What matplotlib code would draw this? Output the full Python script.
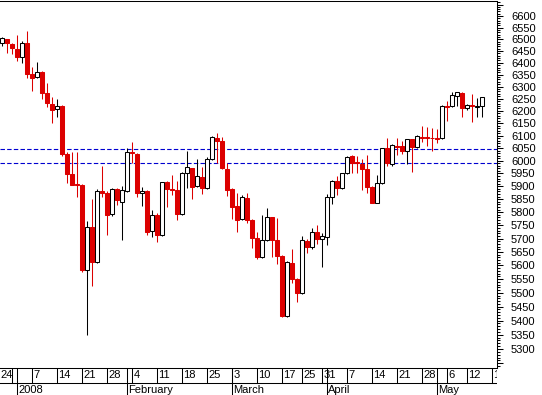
import numpy as np
import matplotlib
matplotlib.use("Agg")
import matplotlib.pyplot as plt
from matplotlib.ticker import FixedLocator, FixedFormatter, NullFormatter

plt.rcParams['font.family'] = ['Liberation Sans', 'DejaVu Sans']

# Daily candles (trading days only)
dates = ["2007-12-24", "2007-12-27", "2007-12-28", "2007-12-31",
         "2008-01-02", "2008-01-03", "2008-01-04",
         "2008-01-07", "2008-01-08", "2008-01-09", "2008-01-10", "2008-01-11",
         "2008-01-14", "2008-01-15", "2008-01-16", "2008-01-17", "2008-01-18",
         "2008-01-21", "2008-01-22", "2008-01-23", "2008-01-24", "2008-01-25",
         "2008-01-28", "2008-01-29", "2008-01-30", "2008-01-31", "2008-02-01",
         "2008-02-04", "2008-02-05", "2008-02-06", "2008-02-07", "2008-02-08",
         "2008-02-11", "2008-02-12", "2008-02-13", "2008-02-14", "2008-02-15",
         "2008-02-18", "2008-02-19", "2008-02-20", "2008-02-21", "2008-02-22",
         "2008-02-25", "2008-02-26", "2008-02-27", "2008-02-28", "2008-02-29",
         "2008-03-03", "2008-03-04", "2008-03-05", "2008-03-06", "2008-03-07",
         "2008-03-10", "2008-03-11", "2008-03-12", "2008-03-13", "2008-03-14",
         "2008-03-17", "2008-03-18", "2008-03-19", "2008-03-20",
         "2008-03-25", "2008-03-26", "2008-03-27", "2008-03-28",
         "2008-03-31", "2008-04-01", "2008-04-02", "2008-04-03", "2008-04-04",
         "2008-04-07", "2008-04-08", "2008-04-09", "2008-04-10", "2008-04-11",
         "2008-04-14", "2008-04-15", "2008-04-16", "2008-04-17", "2008-04-18",
         "2008-04-21", "2008-04-22", "2008-04-23", "2008-04-24", "2008-04-25",
         "2008-04-28", "2008-04-29", "2008-04-30", "2008-05-01", "2008-05-02",
         "2008-05-06", "2008-05-07", "2008-05-08", "2008-05-09",
         "2008-05-12", "2008-05-13", "2008-05-14", "2008-05-15"]

opens = [6455, 6482, 6500, 6479, 6458, 6423, 6482,
         6353, 6339, 6362, 6275, 6228,
         6207, 6220, 6027, 5948, 5910,
         5905, 5583, 5742, 5614, 5881,
         5875, 5792, 5889, 5840, 5881,
         6033, 6027, 5873, 5881, 5728,
         5789, 5713, 5915, 5890, 5885,
         5792, 5950, 5970, 5901, 5937,
         5892, 6006, 6089, 6078, 5966,
         5888, 5824, 5775, 5855, 5770,
         5703, 5632, 5695, 5780, 5695,
         5635, 5417, 5610, 5550,
         5499, 5692, 5667, 5726,
         5697, 5707, 5857, 5920, 5894,
         5950, 6019, 5993, 5986, 5967,
         5898, 5837, 5911, 6049, 5986,
         6060, 6058, 6039, 6085, 6054,
         6096, 6096, 6092, 6091, 6089,
         6222, 6222, 6261, 6272,
         6210, 6226, 6218, 6220]

highs = [6500, 6511, 6502, 6485, 6518, 6492, 6535,
         6383, 6404, 6366, 6316, 6256,
         6249, 6224, 6036, 6036, 6036,
         5908, 5767, 5850, 5889, 5979,
         5880, 5892, 5893, 5902, 6049,
         6075, 6030, 5896, 5884, 5808,
         5795, 5918, 5920, 5944, 5921,
         5957, 6038, 5973, 6006, 5976,
         6016, 6100, 6109, 6096, 5992,
         5892, 5875, 5866, 5875, 5775,
         5724, 5789, 5815, 5782, 5778,
         5638, 5615, 5660, 5553,
         5710, 5697, 5741, 5751,
         5721, 5870, 5924, 5940, 5953,
         6020, 6022, 6017, 6006, 6022,
         5901, 5944, 6052, 6089, 6065,
         6089, 6079, 6088, 6088, 6102,
         6139, 6136, 6132, 6128, 6224,
         6242, 6276, 6279, 6276,
         6228, 6269, 6253, 6258]

lows = [6450, 6472, 6442, 6437, 6407, 6400, 6337,
        6283, 6335, 6248, 6217, 6152,
        6176, 6018, 5914, 5903, 5859,
        5575, 5348, 5524, 5610, 5857,
        5713, 5785, 5827, 5695, 5878,
        5991, 5859, 5824, 5713, 5707,
        5688, 5710, 5821, 5866, 5769,
        5790, 5892, 5850, 5896, 5870,
        5889, 6003, 5992, 5967, 5862,
        5774, 5726, 5769, 5760, 5663,
        5622, 5628, 5692, 5632, 5605,
        5414, 5414, 5535, 5468,
        5495, 5645, 5660, 5680,
        5593, 5676, 5831, 5866, 5890,
        5946, 5950, 5951, 5885, 5873,
        5834, 5834, 5908, 5979, 5979,
        6022, 6027, 5986, 5957, 6050,
        6075, 6059, 6039, 6071, 6086,
        6160, 6218, 6220, 6174,
        6205, 6154, 6174, 6174]

closes = [6490, 6504, 6482, 6461, 6423, 6482, 6353,
          6337, 6362, 6275, 6231, 6204,
          6221, 6027, 5948, 5905, 5906,
          5583, 5742, 5614, 5881, 5875,
          5789, 5888, 5846, 5885, 6033,
          6029, 5873, 5881, 5726, 5789,
          5713, 5915, 5888, 5886, 5792,
          5950, 5974, 5898, 5940, 5892,
          6006, 6093, 6080, 5970, 5885,
          5821, 5770, 5857, 5770, 5703,
          5632, 5695, 5780, 5695, 5636,
          5417, 5612, 5550, 5500,
          5695, 5667, 5724, 5697,
          5710, 5857, 5920, 5894, 5950,
          6016, 5992, 5990, 5967, 5898,
          5836, 5911, 6049, 5990, 6062,
          6056, 6039, 6085, 6055, 6098,
          6092, 6092, 6089, 6087, 6220,
          6218, 6265, 6276, 6211,
          6224, 6222, 6222, 6256]

# axis calendar continues past the last candle
axis_days = dates + ["2008-05-16", "2008-05-19"]

week_dates = ["2007-12-24", "2007-12-31", "2008-01-07", "2008-01-14", "2008-01-21",
              "2008-01-28", "2008-02-04", "2008-02-11", "2008-02-18", "2008-02-25",
              "2008-03-03", "2008-03-10", "2008-03-17", "2008-03-25", "2008-03-31",
              "2008-04-07", "2008-04-14", "2008-04-21", "2008-04-28", "2008-05-06",
              "2008-05-12", "2008-05-19"]
week_text = ["24", "", "7", "14", "21", "28", "4", "11", "18", "25", "3", "10",
             "17", "25", "31", "7", "14", "21", "28", "6", "12", "19"]
month_dates = ["2008-01-02", "2008-02-01", "2008-03-03", "2008-04-01", "2008-05-01"]
month_text = ["2008", "February", "March", "April", "May"]

levels = [6045, 5990]

W, H = 542, 395
red = '#dc0000'
lw = 0.75
x0, x1 = 0.6, 100.0

o = np.array(opens, float)
h = np.array(highs, float)
l = np.array(lows, float)
c = np.array(closes, float)
x = np.arange(len(dates))
up = c >= o
dn = ~up

fig = plt.figure(figsize=(W / 100, H / 100), dpi=100)
ax = fig.add_axes([0, 27 / H, 497 / W, 367.5 / H])
ax.set_yscale('log')
ax.set_xlim(x0, x1)
ax.set_ylim(5234, 6668)

for v in levels:
    ax.axhline(v, color='#0000d0', lw=0.8, linestyle=(0, (4, 2)), zorder=1)

# wicks
ax.vlines(x[up], l[up], h[up], color='black', lw=lw, zorder=2)
ax.vlines(x[dn], l[dn], h[dn], color=red, lw=lw, zorder=2)
# bodies
ax.bar(x[up], c[up] - o[up], bottom=o[up], width=0.8, color='white',
       edgecolor='black', linewidth=lw, zorder=3)
ax.bar(x[dn], o[dn] - c[dn], bottom=c[dn], width=0.8, color=red,
       edgecolor=red, linewidth=lw, zorder=3)

ax.spines['left'].set_visible(False)
for s in ['top', 'right', 'bottom']:
    ax.spines[s].set_linewidth(lw)

ax.yaxis.tick_right()
major = np.arange(5250, 6651, 50)
ax.yaxis.set_major_locator(FixedLocator(major))
ax.yaxis.set_major_formatter(FixedFormatter(
    [str(v) if 5300 <= v <= 6600 else "" for v in major]))
ax.yaxis.set_minor_locator(FixedLocator(np.arange(5240, 6661, 10)))
ax.yaxis.set_minor_formatter(NullFormatter())
ax.tick_params(axis='y', which='major', length=4.3, width=lw, pad=5.8,
               labelsize=8, direction='out')
ax.tick_params(axis='y', which='minor', length=2.2, width=lw, direction='out')
ax.tick_params(axis='x', which='both', bottom=False, labelbottom=False)

# date strip under the chart
ax2 = fig.add_axes([0, 0, 497 / W, 27 / H])
ax2.set_xlim(x0, x1)
ax2.set_ylim(0, 27)
ax2.axis('off')
pos = {d: i for i, d in enumerate(axis_days)}
ax2.axhline(12.5, color='black', lw=lw)
for d, t in zip(week_dates, week_text):
    p = pos[d]
    ax2.plot([p, p], [12.5, 27], color='black', lw=lw)
    if t:
        ax2.text(max(p + 0.26, x0 + 0.02), 17.5, t, fontsize=8,
                 va='baseline', ha='left', clip_on=True)
for d, t in zip(month_dates, month_text):
    p = pos[d]
    ax2.plot([p, p], [0, 27], color='black', lw=lw)
    ax2.text(p + 0.26, 1.8, t, fontsize=8, va='baseline', ha='left', clip_on=True)

fig.savefig("out.png", dpi=100)
